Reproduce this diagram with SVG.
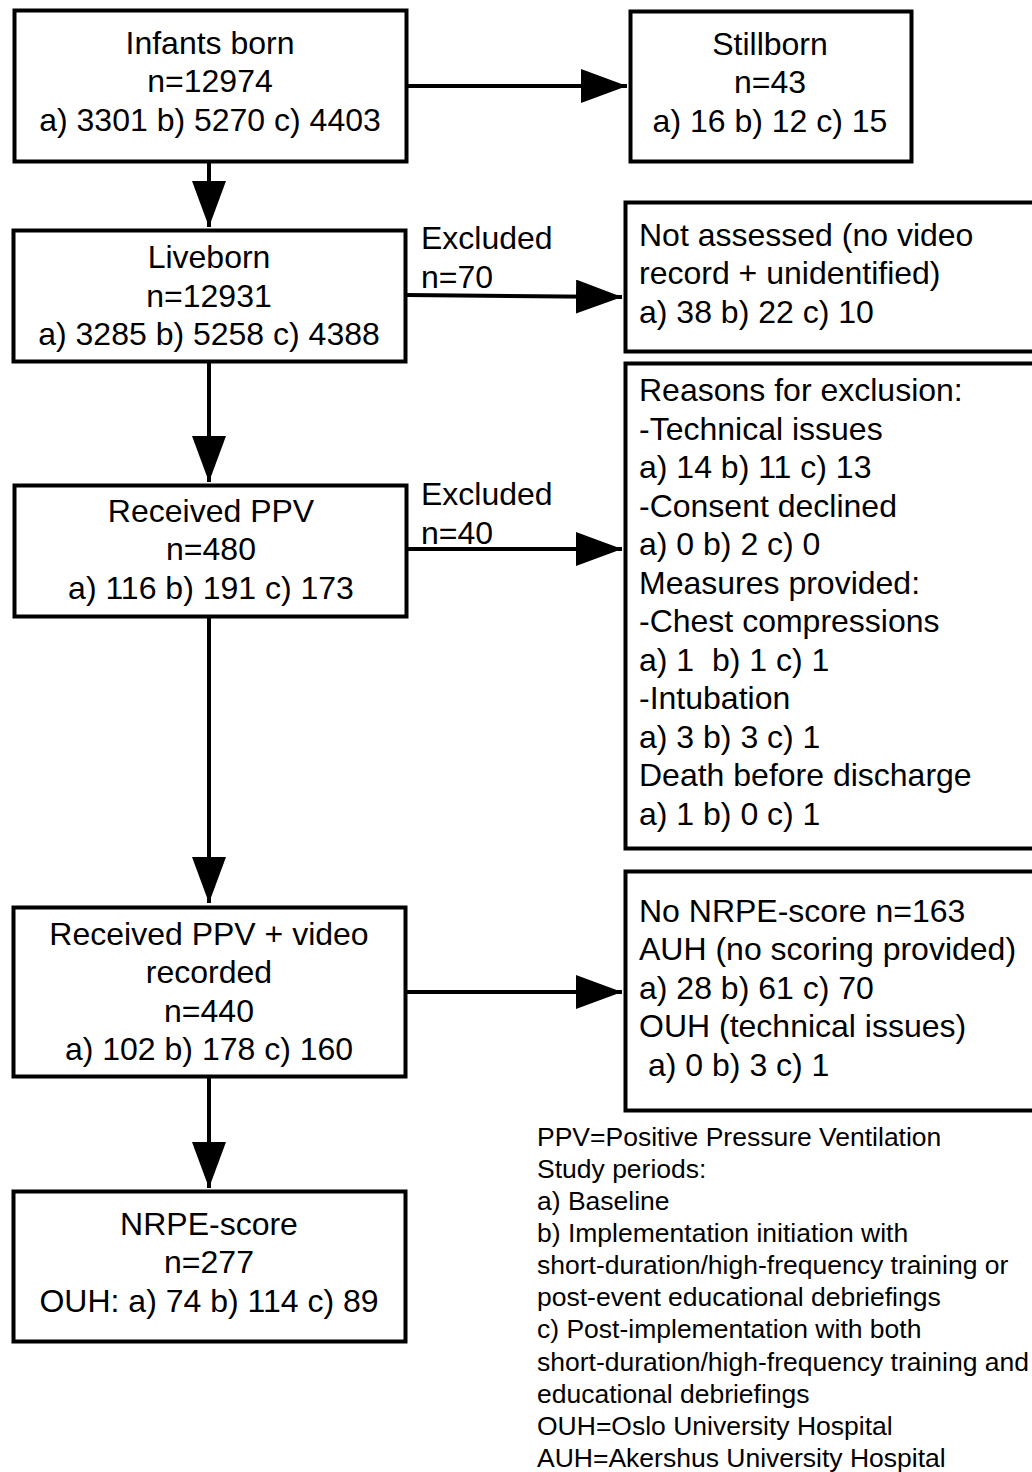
<svg xmlns="http://www.w3.org/2000/svg" width="1032" height="1472" viewBox="0 0 1032 1472">
<defs>
<style>
.box{fill:#fff;stroke:#000;stroke-width:4}
.t{font-family:"Liberation Sans",Arial,sans-serif;font-size:32px;fill:#000}
.c{text-anchor:middle}
.lg{font-family:"Liberation Sans",Arial,sans-serif;font-size:26.5px;fill:#000}
.ln{stroke:#000;stroke-width:4;fill:none}
</style>
<marker id="ah" viewBox="0 0 46 34" refX="46" refY="17" markerWidth="46" markerHeight="34" markerUnits="userSpaceOnUse" orient="auto">
<path d="M0,0 L46,17 L0,34 Z" fill="#000"/>
</marker>
</defs>
<rect width="1032" height="1472" fill="#fff"/>

<g id="connectors">
<line class="ln" x1="407" y1="86" x2="627" y2="86" marker-end="url(#ah)"/>
<line class="ln" x1="209" y1="162" x2="209" y2="227" marker-end="url(#ah)"/>
<line class="ln" x1="407" y1="295" x2="622" y2="297" marker-end="url(#ah)"/>
<line class="ln" x1="209" y1="363" x2="209" y2="482" marker-end="url(#ah)"/>
<line class="ln" x1="408" y1="549" x2="622" y2="549" marker-end="url(#ah)"/>
<line class="ln" x1="209" y1="618" x2="209" y2="903" marker-end="url(#ah)"/>
<line class="ln" x1="407" y1="992" x2="622" y2="992" marker-end="url(#ah)"/>
<line class="ln" x1="209" y1="1078" x2="209" y2="1188" marker-end="url(#ah)"/>
<text class="t" x="421" y="249">Excluded</text>
<text class="t" x="421" y="288">n=70</text>
<text class="t" x="421" y="505">Excluded</text>
<text class="t" x="421" y="544">n=40</text>
</g>

<g id="infants">
<rect class="box" x="14.5" y="10.5" width="392" height="151"/>
<text class="t c" x="210" y="54">Infants born</text>
<text class="t c" x="210" y="92">n=12974</text>
<text class="t c" x="210" y="131">a) 3301 b) 5270 c) 4403</text>
</g>

<g id="stillborn">
<rect class="box" x="630.5" y="11.5" width="281" height="150"/>
<text class="t c" x="770" y="55">Stillborn</text>
<text class="t c" x="770" y="93">n=43</text>
<text class="t c" x="770" y="132">a) 16 b) 12 c) 15</text>
</g>

<g id="liveborn">
<rect class="box" x="13.5" y="230.5" width="392" height="131"/>
<text class="t c" x="209" y="268">Liveborn</text>
<text class="t c" x="209" y="307">n=12931</text>
<text class="t c" x="209" y="345">a) 3285 b) 5258 c) 4388</text>
</g>

<g id="not-assessed">
<rect class="box" x="625.5" y="202.5" width="410" height="149"/>
<text class="t" x="639" y="246">Not assessed (no video</text>
<text class="t" x="639" y="284">record + unidentified)</text>
<text class="t" x="639" y="323">a) 38 b) 22 c) 10</text>
</g>

<g id="received-ppv">
<rect class="box" x="14.5" y="485.5" width="392" height="131"/>
<text class="t c" x="211" y="522">Received PPV</text>
<text class="t c" x="211" y="560">n=480</text>
<text class="t c" x="211" y="599">a) 116 b) 191 c) 173</text>
</g>

<g id="reasons">
<rect class="box" x="625.5" y="363.5" width="410" height="485"/>
<text class="t" x="639" y="401">Reasons for exclusion:</text>
<text class="t" x="639" y="440">-Technical issues</text>
<text class="t" x="639" y="478">a) 14 b) 11 c) 13</text>
<text class="t" x="639" y="517">-Consent declined</text>
<text class="t" x="639" y="555">a) 0 b) 2 c) 0</text>
<text class="t" x="639" y="594">Measures provided:</text>
<text class="t" x="639" y="632">-Chest compressions</text>
<text class="t" x="639" y="671" xml:space="preserve">a) 1  b) 1 c) 1</text>
<text class="t" x="639" y="709">-Intubation</text>
<text class="t" x="639" y="748">a) 3 b) 3 c) 1</text>
<text class="t" x="639" y="786">Death before discharge</text>
<text class="t" x="639" y="825">a) 1 b) 0 c) 1</text>
</g>

<g id="ppv-video">
<rect class="box" x="13.5" y="907.5" width="392" height="169"/>
<text class="t c" x="209" y="945">Received PPV + video</text>
<text class="t c" x="209" y="983">recorded</text>
<text class="t c" x="209" y="1022">n=440</text>
<text class="t c" x="209" y="1060">a) 102 b) 178 c) 160</text>
</g>

<g id="no-nrpe">
<rect class="box" x="625.5" y="871.5" width="410" height="239"/>
<text class="t" x="639" y="922">No NRPE-score n=163</text>
<text class="t" x="639" y="960">AUH (no scoring provided)</text>
<text class="t" x="639" y="999">a) 28 b) 61 c) 70</text>
<text class="t" x="639" y="1037">OUH (technical issues)</text>
<text class="t" x="648" y="1076">a) 0 b) 3 c) 1</text>
</g>

<g id="nrpe">
<rect class="box" x="13.5" y="1191.5" width="392" height="150"/>
<text class="t c" x="209" y="1235">NRPE-score</text>
<text class="t c" x="209" y="1273">n=277</text>
<text class="t c" x="209" y="1312">OUH: a) 74 b) 114 c) 89</text>
</g>

<g id="legend">
<text class="lg" x="537" y="1146">PPV=Positive Pressure Ventilation</text>
<text class="lg" x="537" y="1178">Study periods:</text>
<text class="lg" x="537" y="1210">a) Baseline</text>
<text class="lg" x="537" y="1242">b) Implementation initiation with</text>
<text class="lg" x="537" y="1274">short-duration/high-frequency training or</text>
<text class="lg" x="537" y="1306">post-event educational debriefings</text>
<text class="lg" x="537" y="1338">c) Post-implementation with both</text>
<text class="lg" x="537" y="1371">short-duration/high-frequency training and</text>
<text class="lg" x="537" y="1403">educational debriefings</text>
<text class="lg" x="537" y="1435">OUH=Oslo University Hospital</text>
<text class="lg" x="537" y="1467">AUH=Akershus University Hospital</text>
</g>
</svg>
